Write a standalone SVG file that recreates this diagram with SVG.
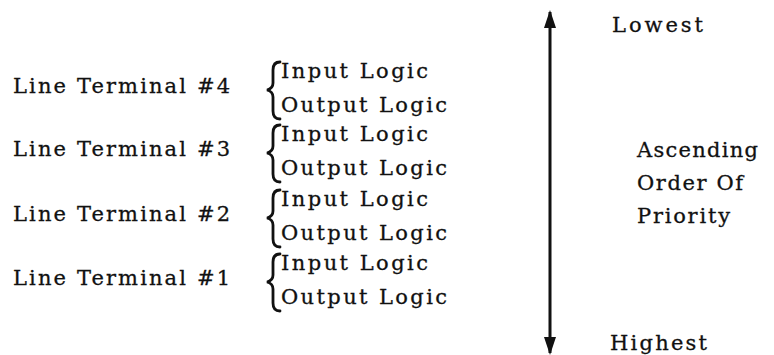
<svg xmlns="http://www.w3.org/2000/svg" xmlns:xlink="http://www.w3.org/1999/xlink" width="774" height="355" viewBox="0 0 774 355">
<style>
text{font-family:"DejaVu Serif","Liberation Serif",serif;font-size:21px;fill:#111;stroke:#111;stroke-width:0.3}
.brace{fill:none;stroke:#111;stroke-width:2.8;stroke-linecap:round}
.shaft{stroke:#111;stroke-width:3;fill:none}
</style>
<defs>
<path id="brace" class="brace" d="M280,62 C275,62 273,65 273,70 L273,83 C273,87 271,89 267,90 C271,91 273,93 273,97 L273,111 C273,116 275,119 280,119"/>
<marker id="ah" viewBox="0 0 18 12" refX="16" refY="6" markerWidth="18" markerHeight="12" markerUnits="userSpaceOnUse" orient="auto-start-reverse">
<path d="M0,0 L18,6 L0,12 Z" fill="#111"/>
</marker>
</defs>
<rect width="774" height="355" fill="#fff"/>
<g id="lt4">
<text x="13" y="93" textLength="217" lengthAdjust="spacing">Line Terminal #4</text>
<use xlink:href="#brace"/>
<text x="281" y="78" textLength="147" lengthAdjust="spacing">Input Logic</text>
<text x="281" y="112" textLength="166" lengthAdjust="spacing">Output Logic</text>
</g>
<g id="lt3" transform="translate(0,63)">
<text x="13" y="93" textLength="217" lengthAdjust="spacing">Line Terminal #3</text>
<use xlink:href="#brace"/>
<text x="281" y="78" textLength="147" lengthAdjust="spacing">Input Logic</text>
<text x="281" y="112" textLength="166" lengthAdjust="spacing">Output Logic</text>
</g>
<g id="lt2" transform="translate(0,128)">
<text x="13" y="93" textLength="217" lengthAdjust="spacing">Line Terminal #2</text>
<use xlink:href="#brace"/>
<text x="281" y="78" textLength="147" lengthAdjust="spacing">Input Logic</text>
<text x="281" y="112" textLength="166" lengthAdjust="spacing">Output Logic</text>
</g>
<g id="lt1" transform="translate(0,192)">
<text x="13" y="93" textLength="217" lengthAdjust="spacing">Line Terminal #1</text>
<use xlink:href="#brace"/>
<text x="281" y="78" textLength="147" lengthAdjust="spacing">Input Logic</text>
<text x="281" y="112" textLength="166" lengthAdjust="spacing">Output Logic</text>
</g>
<g id="connectors">
<line class="shaft" x1="550" y1="12" x2="550" y2="353" marker-start="url(#ah)" marker-end="url(#ah)"/>
</g>
<g id="labels">
<text x="612" y="32" textLength="91" lengthAdjust="spacing">Lowest</text>
<text x="637" y="157" textLength="121" lengthAdjust="spacing">Ascending</text>
<text x="637" y="190" textLength="106" lengthAdjust="spacing">Order Of</text>
<text x="637" y="223" textLength="93" lengthAdjust="spacing">Priority</text>
<text x="610" y="350" textLength="97" lengthAdjust="spacing">Highest</text>
</g>
</svg>
